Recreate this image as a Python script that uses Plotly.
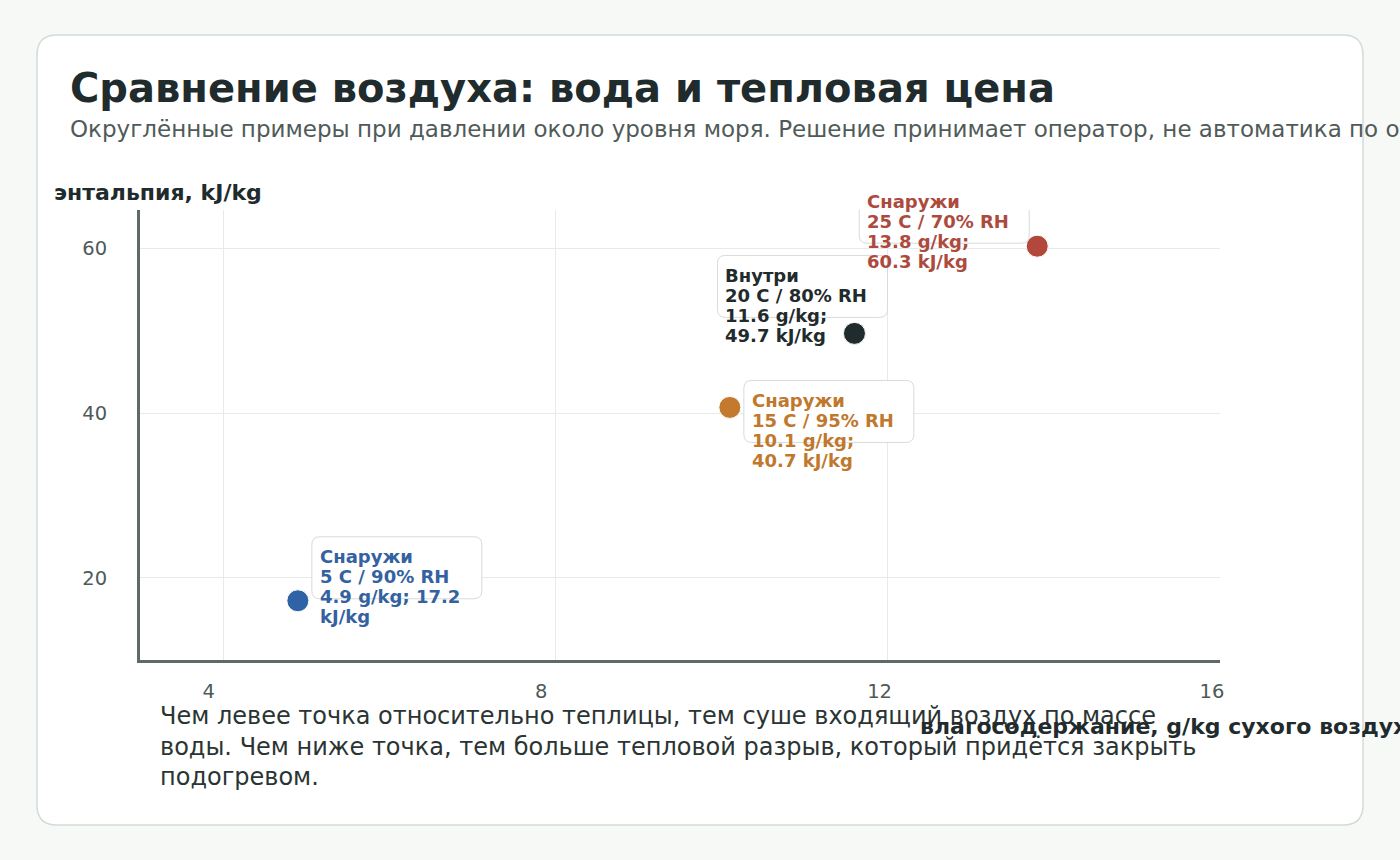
import plotly.graph_objects as go

# ---- data ----
names = ["Снаружи", "Снаружи", "Внутри", "Снаружи"]
conditions = ["5 C / 90% RH", "15 C / 95% RH", "20 C / 80% RH", "25 C / 70% RH"]
moisture = [4.9, 10.1, 11.6, 13.8]        # g/kg dry air
enthalpy = [17.2, 40.7, 49.7, 60.3]       # kJ/kg
label_line3 = ["4.9 g/kg; 17.2", "10.1 g/kg;", "11.6 g/kg;", "13.8 g/kg;"]
label_line4 = ["kJ/kg", "40.7 kJ/kg", "49.7 kJ/kg", "60.3 kJ/kg"]
x_ticks = [4, 8, 12, 16]
y_ticks = [20, 40, 60]

title = "Сравнение воздуха: вода и тепловая цена"
subtitle = ("Округлённые примеры при давлении около уровня моря. "
            "Решение принимает оператор, не автоматика по одной точке.")
note_lines = ["Чем левее точка относительно теплицы, тем суше входящий воздух по массе",
              "воды. Чем ниже точка, тем больше тепловой разрыв, который придётся закрыть",
              "подогревом."]
x_title = "влагосодержание, g/kg сухого воздуха"
y_title = "энтальпия, kJ/kg"

# ---- style ----
colors = ["#2f63a6", "#c47a2e", "#1f2b2c", "#b2473b"]
text_colors = ["#3462a0", "#c0782e", "#1f2b2c", "#ad4a3e"]
# box offsets in screen pixels relative to the point: (left, top)
box_offsets = [(14, -64), (14, -27), (-137, -78), (-178, -65)]
BOX_W, BOX_H, BOX_R = 170, 62, 8
LABEL_LINE = 20

W, H = 1400, 860
ML, MR, MT, MB = 140, 180, 210, 200
PW, PH = W - ML - MR, H - MT - MB
FONT = "DejaVu Sans"
DARK = "#1f2b2c"


def px(xp):
    return (xp - ML) / PW


def py(yp):
    return 1 - (yp - MT) / PH


def rounded_path(x0, y0, x1, y1, rx, ry):
    return (f"M {x0+rx},{y0} L {x1-rx},{y0} Q {x1},{y0} {x1},{y0+ry} "
            f"L {x1},{y1-ry} Q {x1},{y1} {x1-rx},{y1} L {x0+rx},{y1} "
            f"Q {x0},{y1} {x0},{y1-ry} L {x0},{y0+ry} Q {x0},{y0} {x0+rx},{y0} Z")


fig = go.Figure()

fig.add_trace(go.Scatter(
    x=moisture, y=enthalpy, mode="markers",
    marker=dict(size=22, color=colors, line=dict(width=1, color="white")),
    hoverinfo="skip", showlegend=False, cliponaxis=False,
))

shapes = []
cx0, cx1 = px(37), px(1363)
cy0, cy1 = py(825), py(35)
shapes.append(dict(type="path", xref="paper", yref="paper", layer="below",
                   path=rounded_path(cx0, cy0, cx1, cy1, 20 / PW, 20 / PH),
                   fillcolor="white", line=dict(color="#d3dbd8", width=1.5)))

annotations = []
for i in range(len(moisture)):
    bl, bt = box_offsets[i]
    x0, x1 = bl, bl + BOX_W
    y1, y0 = -bt, -bt - BOX_H
    shapes.append(dict(type="path", xref="x", yref="y",
                       xsizemode="pixel", ysizemode="pixel",
                       xanchor=moisture[i], yanchor=enthalpy[i],
                       path=rounded_path(x0, y0, x1, y1, BOX_R, BOX_R),
                       fillcolor="rgba(255,255,255,0.92)",
                       line=dict(color="#d5dcdb", width=1), layer="above"))
    lines = [names[i], conditions[i], label_line3[i], label_line4[i]]
    for k, ln in enumerate(lines):
        annotations.append(dict(
            xref="x", yref="y", x=moisture[i], y=enthalpy[i],
            xanchor="left", yanchor="middle", align="left", showarrow=False,
            xshift=bl + 6, yshift=-(bt + 20 + LABEL_LINE * k),
            text=f"<b>{ln}</b>",
            font=dict(family=FONT, size=18, color=text_colors[i]),
        ))

annotations += [
    dict(xref="paper", yref="paper", x=px(68), y=py(88), xanchor="left", yanchor="middle",
         text=f"<b>{title}</b>", showarrow=False, font=dict(family=FONT, size=40, color=DARK)),
    dict(xref="paper", yref="paper", x=px(68), y=py(129), xanchor="left", yanchor="middle",
         text=subtitle, showarrow=False, font=dict(family=FONT, size=23, color="#505b59")),
    dict(xref="paper", yref="paper", x=px(52), y=py(192), xanchor="left", yanchor="middle",
         text=f"<b>{y_title}</b>", showarrow=False, font=dict(family=FONT, size=22, color=DARK)),
]
for k, line in enumerate(note_lines):
    annotations.append(dict(xref="paper", yref="paper", x=px(158), y=py(716 + 30.5 * k),
                            xanchor="left", yanchor="middle", text=line, showarrow=False,
                            font=dict(family=FONT, size=24, color="#2a3433")))
annotations.append(dict(xref="paper", yref="paper", x=px(918), y=py(726), xanchor="left",
                        yanchor="middle", text=f"<b>{x_title}</b>", showarrow=False,
                        font=dict(family=FONT, size=22, color=DARK)))

fig.update_layout(
    width=W, height=H, margin=dict(l=ML, r=MR, t=MT, b=MB),
    paper_bgcolor="#f7f9f7", plot_bgcolor="rgba(0,0,0,0)",
    font=dict(family=FONT),
    shapes=shapes, annotations=annotations,
    xaxis=dict(range=[3, 16], tickvals=x_ticks, showgrid=True, gridcolor="#e7eaea",
               gridwidth=1, zeroline=False, showline=True, linecolor="#5e6968", linewidth=3,
               ticks="", ticklabelposition="outside right", ticklabelshift=-22,
               ticklabelstandoff=12,
               tickfont=dict(family=FONT, size=19.5, color="#4f5a58")),
    yaxis=dict(range=[10, 64.7], tickvals=y_ticks, showgrid=True, gridcolor="#e7eaea",
               gridwidth=1, zeroline=False, showline=True, linecolor="#5e6968", linewidth=3,
               ticks="", ticklabelstandoff=26,
               tickfont=dict(family=FONT, size=19.5, color="#4f5a58")),
)

fig.write_html("out.html")
